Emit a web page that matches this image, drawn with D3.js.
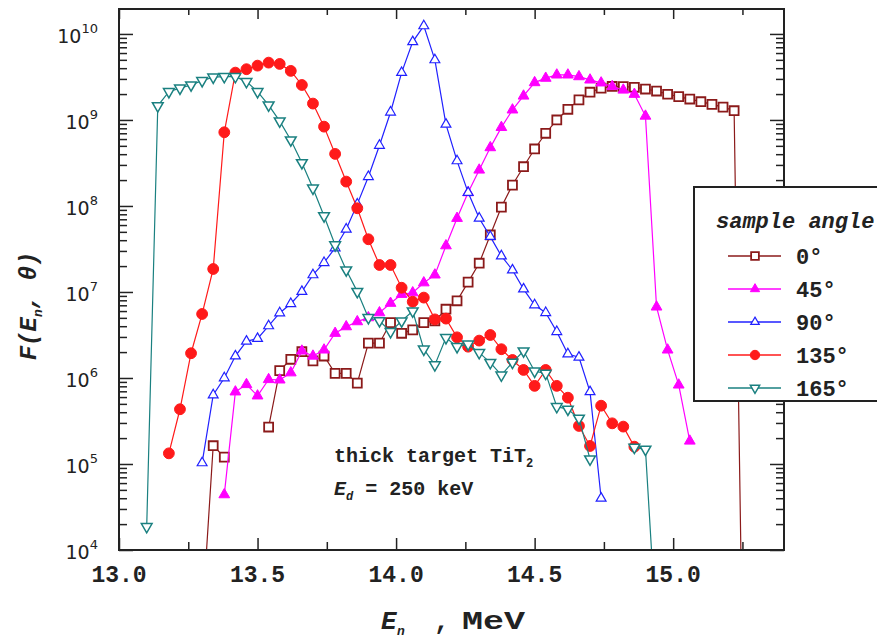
<!DOCTYPE html>
<html>
<head>
<meta charset="utf-8">
<script src="https://cdn.jsdelivr.net/npm/d3@7"></script>
<style>
  body { margin: 0; background: #fff; }
</style>
</head>
<body>
<div id="chart"></div>
<script>
// neutron energy grid, MeV
const energy = [13.10, 13.14, 13.18, 13.22, 13.26, 13.30, 13.34, 13.38, 13.42, 13.46,
  13.50, 13.54, 13.58, 13.62, 13.66, 13.70, 13.74, 13.78, 13.82, 13.86,
  13.90, 13.94, 13.98, 14.02, 14.06, 14.10, 14.14, 14.18, 14.22, 14.26,
  14.30, 14.34, 14.38, 14.42, 14.46, 14.50, 14.54, 14.58, 14.62, 14.66,
  14.70, 14.74, 14.78, 14.82, 14.86, 14.90, 14.94, 14.98, 15.02, 15.06,
  15.10, 15.14, 15.18, 15.22, 15.26];

// F(En, theta) for each sample angle (null = no point)
const f0 = [null, null, null, null, null, 1.55e3, 1.63e5, 1.2e5, null, null,
  null, 2.69e5, 1.22e6, 1.65e6, 2.02e6, 1.58e6, 1.8e6, 1.13e6, 1.13e6, 8.7e5,
  2.54e6, 2.54e6, 4.4e6, 3.31e6, 3.62e6, 4.4e6, 4.6e6, 6.3e6, 7.9e6, 1.3e7,
  2.16e7, 4.6e7, 9.7e7, 1.75e8, 2.86e8, 4.6e8, 7.0e8, 1.0e9, 1.33e9, 1.71e9,
  2.1e9, 2.34e9, 2.45e9, 2.44e9, 2.4e9, 2.29e9, 2.17e9, 1.99e9, 1.87e9, 1.75e9,
  1.63e9, 1.52e9, 1.41e9, 1.28e9, 5];
const f45 = [null, null, null, null, null, null, null, 4.4e4, 6.9e5, 8.4e5,
  6.2e5, 9.6e5, 9.5e5, 1.15e6, 2.06e6, 1.8e6, 2.12e6, 3.31e6, 3.95e6, 4.52e6,
  5.03e6, 5.74e6, 7.4e6, 9.4e6, 9.8e6, 1.28e7, 1.58e7, 3.45e7, 7.19e7, 1.43e8,
  2.62e8, 4.77e8, 8.2e8, 1.31e9, 1.9e9, 2.72e9, 3.06e9, 3.34e9, 3.34e9, 3.19e9,
  2.92e9, 2.7e9, 2.45e9, 2.23e9, 1.99e9, 1.11e9, 6.7e6, 2.12e6, 8.3e5, 1.85e5,
  null, null, null, null, null];
const f90 = [null, null, null, null, null, 1.03e5, 6.34e5, 1.0e6, 1.8e6, 2.67e6,
  2.87e6, 4.03e6, 5.7e6, 7.3e6, 1.01e7, 1.58e7, 2.19e7, 3.25e7, 5.36e7, 1.05e8,
  2.19e8, 5.05e8, 1.23e9, 3.55e9, 8.1e9, 1.24e10, 4.99e9, 8.9e8, 3.34e8, 1.43e8,
  7.2e7, 4.4e7, 2.62e7, 1.8e7, 1.08e7, 7.06e6, 5.74e6, 3.45e6, 1.9e6, 1.74e6,
  6.9e5, 3.99e4, null, null, null, null, null, null, null, null,
  null, null, null, null, null];
const f135 = [null, null, 1.33e5, 4.33e5, 1.94e6, 5.55e6, 1.85e7, 7.19e8, 3.55e9, 3.89e9,
  4.28e9, 4.64e9, 4.48e9, 3.72e9, 2.55e9, 1.55e9, 8.36e8, 4.03e8, 1.92e8, 9.4e7,
  4.1e7, 2.06e7, 2.06e7, 1.12e7, 7.7e6, 8.6e6, 4.8e6, 4.9e6, 2.97e6, 2.31e6,
  2.72e6, 3.16e6, 2.16e6, 1.62e6, 1.24e6, 8.1e5, 1.24e6, 8.1e5, 5.9e5, 2.77e5,
  1.62e5, 4.76e5, 2.97e5, 2.72e5, 1.59e5, null, null, null, null, null,
  null, null, null, null, null];
const f165 = [1.87e4, 1.46e9, 2.13e9, 2.34e9, 2.55e9, 2.86e9, 3.14e9, 3.19e9, 3.19e9, 2.79e9,
  2.13e9, 1.49e9, 9.7e8, 5.85e8, 3.18e8, 1.61e8, 7.65e7, 3.52e7, 1.8e7, 1.01e7,
  5.02e6, 4.63e6, 3.45e6, 4.6e6, 6.0e6, 2.16e6, 1.42e6, 2.94e6, 2.31e6, 2.47e6,
  1.97e6, 1.51e6, 1.08e6, 1.52e6, 2.06e6, 1.2e6, 1.13e6, 4.64e5, 4.33e5, 3.4e5,
  1.14e5, null, null, null, 1.56e5, 1.48e5, 1.05e3, null, null, null,
  null, null, null, null, null];

const angleLabels = ["0°", "45°", "90°", "135°", "165°"];
const xMajor = [13.0, 13.5, 14.0, 14.5, 15.0];
const xMinor = [13.25, 13.75, 14.25, 14.75, 15.25];
const yDecades = [1e4, 1e5, 1e6, 1e7, 1e8, 1e9, 1e10];

const width = 877, height = 641;
const plot = {left: 119, right: 784, top: 9, bottom: 550};

const x = d3.scaleLinear().domain([13.0, 15.4]).range([plot.left, plot.right]);
const y = d3.scaleLog().domain([1e4, 1.95e10]).range([plot.bottom, plot.top]);

const svg = d3.select("#chart").append("svg")
  .attr("width", width)
  .attr("height", height)
  .style("font-family", "'Liberation Mono', monospace");

svg.append("defs").append("clipPath").attr("id", "clip")
  .append("rect")
  .attr("x", plot.left).attr("y", plot.top)
  .attr("width", plot.right - plot.left).attr("height", plot.bottom - plot.top);

// minor log ticks 2..9 in each decade
const yMinor = [];
yDecades.forEach(d => { for (let m = 2; m <= 9; m++) if (d * m < 1.95e10) yMinor.push(d * m); });

const noDomain = g => { g.select(".domain").remove(); g.selectAll("line").attr("stroke", "#222").attr("stroke-width", 1.5); };

// x ticks bottom + top
svg.append("g").attr("transform", `translate(0,${plot.bottom})`)
  .call(d3.axisBottom(x).tickValues(xMajor).tickSize(-12).tickFormat("")).call(noDomain);
svg.append("g").attr("transform", `translate(0,${plot.bottom})`)
  .call(d3.axisBottom(x).tickValues(xMinor).tickSize(-8).tickFormat("")).call(noDomain);
svg.append("g").attr("transform", `translate(0,${plot.top})`)
  .call(d3.axisTop(x).tickValues(xMajor).tickSize(-10).tickFormat("")).call(noDomain);
svg.append("g").attr("transform", `translate(0,${plot.top})`)
  .call(d3.axisTop(x).tickValues(xMinor).tickSize(-6).tickFormat("")).call(noDomain);

// y ticks left + right
svg.append("g").attr("transform", `translate(${plot.left},0)`)
  .call(d3.axisLeft(y).tickValues(yDecades).tickSize(-14).tickFormat("")).call(noDomain);
svg.append("g").attr("transform", `translate(${plot.left},0)`)
  .call(d3.axisLeft(y).tickValues(yMinor).tickSize(-8).tickFormat("")).call(noDomain);
svg.append("g").attr("transform", `translate(${plot.right},0)`)
  .call(d3.axisRight(y).tickValues(yDecades).tickSize(-14).tickFormat("")).call(noDomain);
svg.append("g").attr("transform", `translate(${plot.right},0)`)
  .call(d3.axisRight(y).tickValues(yMinor).tickSize(-8).tickFormat("")).call(noDomain);

// x tick labels
svg.append("g").selectAll("text").data(xMajor).join("text")
  .attr("x", d => x(d))
  .attr("y", 582)
  .attr("text-anchor", "middle")
  .style("font-size", "23px")
  .style("font-weight", "bold")
  .attr("fill", "#222")
  .text(d => d.toFixed(1));

// y tick labels 10^n
const yl = svg.append("g").selectAll("text").data(yDecades).join("text")
  .attr("x", 98)
  .attr("y", d => y(d) + 9)
  .attr("text-anchor", "end")
  .style("font-family", "'DejaVu Sans', sans-serif")
  .style("font-size", "19px")
  .attr("fill", "#222");
yl.append("tspan").text("10");
yl.append("tspan").attr("dy", -10).style("font-size", "13px").text(d => Math.round(Math.log10(d)));

// series
const series = [
  {name: angleLabels[0], values: f0, color: "#8b1a1a", symbol: d3.symbolSquare, size: 80, fill: "#fff", sw: 1.8, rot: 0},
  {name: angleLabels[1], values: f45, color: "#ff00ff", symbol: d3.symbolTriangle, size: 50, fill: "#ff00ff", sw: 1, rot: 0},
  {name: angleLabels[2], values: f90, color: "#2020ff", symbol: d3.symbolTriangle, size: 42, fill: "#fff", sw: 1.2, rot: 0},
  {name: angleLabels[3], values: f135, color: "#ff1a1a", symbol: d3.symbolCircle, size: 92, fill: "#ff1a1a", sw: 1, rot: 0},
  {name: angleLabels[4], values: f165, color: "#1a8080", symbol: d3.symbolTriangle, size: 50, fill: "#fff", sw: 1.5, rot: 180}
];

const line = d3.line()
  .defined(d => d.v != null)
  .x(d => x(d.e))
  .y(d => y(d.v));

const plotG = svg.append("g").attr("clip-path", "url(#clip)");

series.forEach(s => {
  const pts = energy.map((e, i) => ({e: e, v: s.values[i]}));
  plotG.append("path")
    .datum(pts)
    .attr("fill", "none")
    .attr("stroke", s.color)
    .attr("stroke-width", 1.2)
    .attr("d", line);
  plotG.append("g").selectAll("path")
    .data(pts.filter(d => d.v != null))
    .join("path")
    .attr("transform", d => `translate(${x(d.e)},${y(d.v)}) rotate(${s.rot})`)
    .attr("d", d3.symbol().type(s.symbol).size(s.size))
    .attr("fill", s.fill)
    .attr("stroke", s.color)
    .attr("stroke-width", s.sw);
});

// frame
svg.append("rect")
  .attr("x", plot.left).attr("y", plot.top)
  .attr("width", plot.right - plot.left).attr("height", plot.bottom - plot.top)
  .attr("fill", "none")
  .attr("stroke", "#222")
  .attr("stroke-width", 2);

// annotation
const ann1 = svg.append("text").attr("x", 334).attr("y", 462)
  .style("font-size", "20px").style("font-weight", "bold").attr("fill", "#222");
ann1.append("tspan").text("thick target TiT");
ann1.append("tspan").attr("dy", 5).style("font-size", "12px").text("2");
const ann2 = svg.append("text").attr("x", 334).attr("y", 495)
  .style("font-size", "20px").style("font-weight", "bold").attr("fill", "#222");
ann2.append("tspan").style("font-style", "italic").text("E");
ann2.append("tspan").attr("dy", 5).style("font-size", "12px").style("font-style", "italic").text("d");
ann2.append("tspan").attr("dy", -5).text(" = 250 keV");

// axis titles
const yt = svg.append("text")
  .attr("transform", "translate(36,306) rotate(-90)")
  .attr("text-anchor", "middle")
  .style("font-size", "24px").style("font-weight", "bold").style("font-style", "italic")
  .attr("fill", "#222");
yt.append("tspan").text("F(E");
yt.append("tspan").attr("dy", 6).style("font-size", "13px").text("n");
yt.append("tspan").attr("dy", -6).text(", θ)");

const xt = svg.append("g").style("font-weight", "bold").attr("fill", "#222");
xt.append("text").attr("x", 381).attr("y", 629)
  .style("font-size", "26px").style("font-style", "italic").text("E");
xt.append("text").attr("x", 397).attr("y", 635)
  .style("font-size", "13px").style("font-style", "italic").text("n");
xt.append("text").attr("x", 434).attr("y", 629)
  .style("font-size", "26px").text(",");
xt.append("text").attr("x", 462).attr("y", 629)
  .style("font-size", "25px")
  .attr("textLength", 63).attr("lengthAdjust", "spacingAndGlyphs")
  .text("MeV");

// legend
const lg = svg.append("g");
lg.append("rect")
  .attr("x", 694).attr("y", 187).attr("width", 200).attr("height", 214)
  .attr("fill", "#fff").attr("stroke", "#222").attr("stroke-width", 2);
lg.append("text").attr("x", 716).attr("y", 228)
  .style("font-size", "22px").style("font-weight", "bold").style("font-style", "italic")
  .attr("fill", "#222").text("sample angle");
const legY = [256, 289, 322, 355, 388];
series.forEach((s, i) => {
  const g = lg.append("g").attr("transform", `translate(0,${legY[i]})`);
  g.append("line").attr("x1", 728).attr("x2", 781).attr("y1", 0).attr("y2", 0)
    .attr("stroke", s.color).attr("stroke-width", 1.5);
  g.append("path")
    .attr("transform", `translate(755,0) rotate(${s.rot})`)
    .attr("d", d3.symbol().type(s.symbol).size(s.size * 0.75))
    .attr("fill", s.fill).attr("stroke", s.color).attr("stroke-width", s.sw);
  g.append("text").attr("x", 796).attr("y", 8)
    .style("font-size", "22px").style("font-weight", "bold")
    .attr("fill", "#222").text(s.name);
});
</script>
</body>
</html>
